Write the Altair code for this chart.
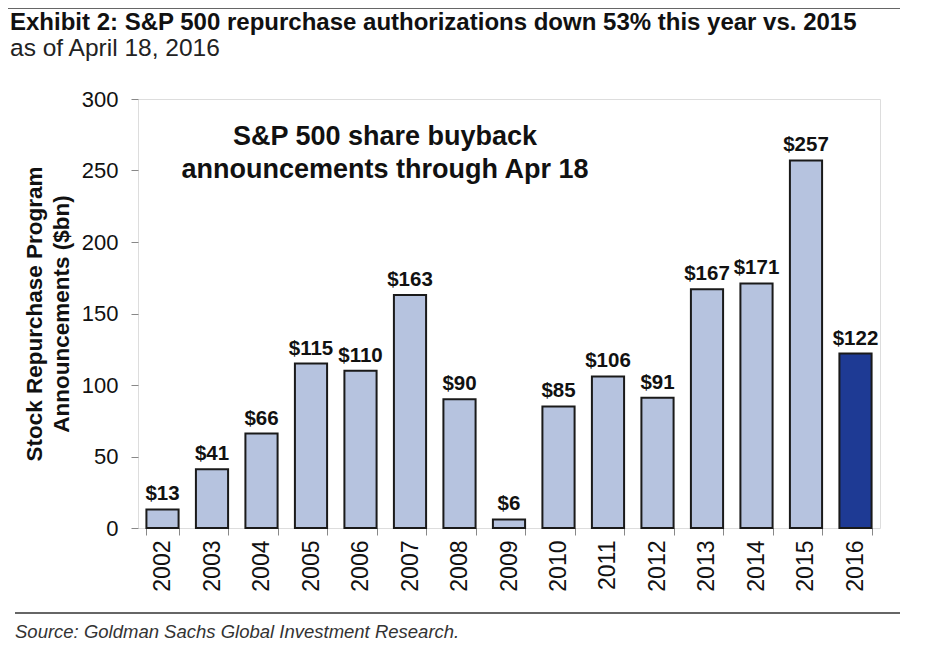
import altair as alt
import pandas as pd

years = [str(y) for y in range(2002, 2017)]
values = [13, 41, 66, 115, 110, 163, 90, 6, 85, 106, 91, 167, 171, 257, 122]
labels = ["$" + str(v) for v in values]
highlight = [False] * 14 + [True]

df = pd.DataFrame({"year": years, "value": values, "label": labels, "hl": highlight})
one = pd.DataFrame({"k": [0]})

FONT = "Liberation Sans"
W, H = 742, 429

x = alt.X("year:N", title=None, sort=years,
          scale=alt.Scale(paddingInner=0.35, paddingOuter=0.17),
          axis=alt.Axis(labelAngle=-90, labelFontSize=23, labelFont=FONT, labelColor="#111",
                        tickBand="extent", tickSize=7, tickColor="#888", domain=False,
                        labelPadding=5))
y = alt.Y("value:Q", scale=alt.Scale(domain=[0, 300]),
          axis=alt.Axis(values=[0, 50, 100, 150, 200, 250, 300], grid=False, domain=False,
                        tickSize=7, tickColor="#888", labelFontSize=22, labelFont=FONT,
                        labelColor="#111", labelPadding=13,
                        title=["Stock Repurchase Program", "Announcements ($bn)"],
                        titleFontSize=22.5, titleFont=FONT, titleFontWeight="bold",
                        titleColor="#111", titlePadding=8, titleLineHeight=27))

bars = alt.Chart(df).mark_bar(stroke="#1a1a1a", strokeWidth=2).encode(
    x=x, y=y,
    color=alt.Color("hl:N", legend=None,
                    scale=alt.Scale(domain=[False, True], range=["#b6c3df", "#1e3a94"])),
)

text = alt.Chart(df).mark_text(baseline="bottom", dy=-5, fontSize=20.5, fontWeight="bold",
                               font=FONT, color="#111").encode(
    x=alt.X("year:N", sort=years), y="value:Q", text="label:N")

annot = alt.Chart(one).mark_text(fontSize=27, fontWeight="bold", font=FONT, color="#111",
                                 align="center", baseline="middle", lineHeight=33).encode(
    x=alt.value(247), y=alt.value(38),
    text=alt.value(["S&P 500 share buyback", "announcements through Apr 18"]))

title = alt.Chart(one).mark_text(fontSize=24, fontWeight="bold", font=FONT, color="#111",
                                 align="left", baseline="alphabetic").encode(
    x=alt.value(-128), y=alt.value(-69),
    text=alt.value("Exhibit 2: S&P 500 repurchase authorizations down 53% this year vs. 2015"))

subtitle = alt.Chart(one).mark_text(fontSize=24.5, font=FONT, color="#222",
                                    align="left", baseline="alphabetic").encode(
    x=alt.value(-128), y=alt.value(-43), text=alt.value("as of April 18, 2016"))

source = alt.Chart(one).mark_text(fontSize=18.5, font=FONT, fontStyle="italic", color="#333",
                                  align="left", baseline="middle").encode(
    x=alt.value(-123), y=alt.value(533),
    text=alt.value("Source: Goldman Sachs Global Investment Research."))

top_rule = alt.Chart(one).mark_rule(color="#666", strokeWidth=2).encode(
    x=alt.value(-130), x2=alt.value(762), y=alt.value(-91))
bottom_rule = alt.Chart(one).mark_rule(color="#666", strokeWidth=2).encode(
    x=alt.value(-123), x2=alt.value(762), y=alt.value(514))

chart = alt.layer(bars, text, annot, title, subtitle, source, top_rule, bottom_rule).properties(
    width=W, height=H,
    autosize=alt.AutoSizeParams(type="none"),
    padding={"left": 130, "top": 91, "right": 40, "bottom": 120},
).configure_view(stroke="#999", strokeWidth=2).configure(background="white")

chart.save("out.html", embed_options={"renderer": "svg", "actions": False})
